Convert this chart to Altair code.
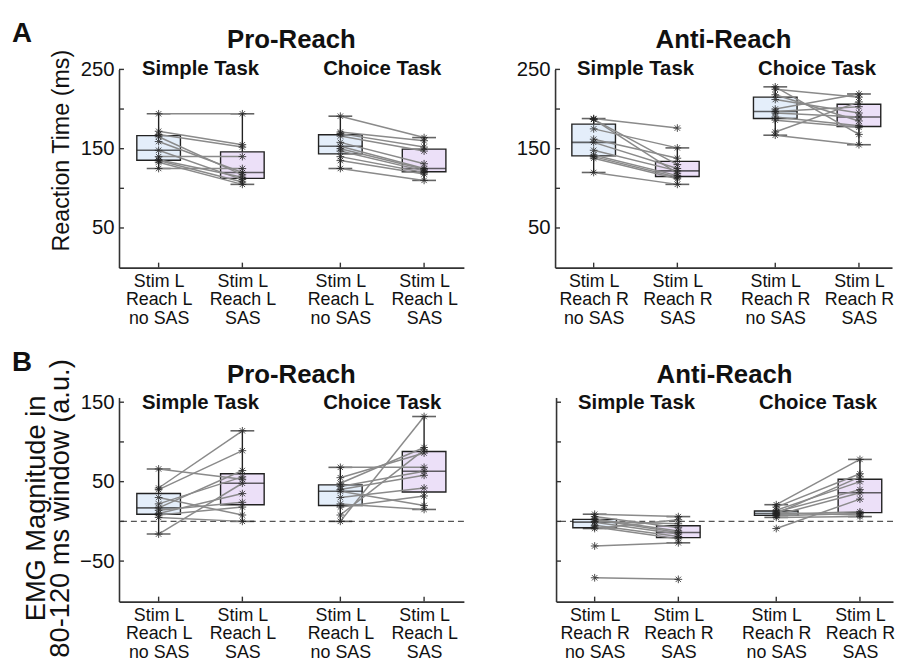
import altair as alt
import pandas as pd
import numpy as np

FONT = "Liberation Sans"

# x positions of the four conditions (Simple noSAS, Simple SAS, Choice noSAS, Choice SAS)
positions = [1, 2, 3.17, 4.17]
cond_names = ["noSAS", "SAS", "noSAS", "SAS"]
task_names = ["Simple Task", "Simple Task", "Choice Task", "Choice Task"]

labels_pro = [["Stim L", "Reach L", "no SAS"], ["Stim L", "Reach L", "SAS"],
              ["Stim L", "Reach L", "no SAS"], ["Stim L", "Reach L", "SAS"]]
labels_anti = [["Stim L", "Reach R", "no SAS"], ["Stim L", "Reach R", "SAS"],
               ["Stim L", "Reach R", "no SAS"], ["Stim L", "Reach R", "SAS"]]

# ---- Panel A: reaction time (ms), per subject ----
rt_pro_simple_nosas = [194, 172, 168, 165, 159, 148, 140, 136, 135, 133, 125]
rt_pro_simple_sas = [194, 155, 152, 117, 120, 111, 140, 114, 108, 105, 125]
rt_pro_choice_nosas = [191, 171, 169, 166, 158, 153, 150, 147, 140, 135, 125]
rt_pro_choice_sas = [164, 160, 152, 147, 131, 125, 124, 122, 120, 118, 110]

rt_anti_simple_nosas = [188, 187, 187, 175, 162, 158, 148, 142, 140, 138, 120]
rt_anti_simple_sas = [176, 119, 130, 151, 138, 125, 122, 116, 114, 112, 105]
rt_anti_choice_nosas = [228, 225, 218, 212, 200, 197, 195, 190, 186, 171, 167]
rt_anti_choice_sas = [168, 215, 185, 195, 219, 203, 190, 179, 177, 209, 155]

# ---- Panel B: EMG magnitude (a.u.), per subject ----
emg_pro_simple_nosas = [66, 42, 40, 30, 22, 17, 14, 10, 8, 5, -16]
emg_pro_simple_sas = [53, 114, 89, 8, 56, 64, 24, 35, 18, 0, 48]
emg_pro_choice_nosas = [68, 55, 48, 44, 40, 38, 30, 22, 18, 8, 0]
emg_pro_choice_sas = [68, 86, 93, 63, 58, 20, 42, 15, 32, 90, 132]

emg_anti_simple_nosas = [-71, -31, 9, 6, 3, 2, 0, -1, -5, -7, -9]
emg_anti_simple_sas = [-73, -27, 6, -8, -12, -14, -3, -16, -19, -22, 2]
emg_anti_choice_nosas = [21, 18, 14, 12, 11, 10, 9, 8, 7, 5, -9]
emg_anti_choice_sas = [78, 60, 50, 40, 8, 56, 12, 36, 10, 6, 28]

BLUE = "#e4eefa"
PURPLE = "#ece0f8"


def long_df(groups):
    rows = []
    for g, vals in enumerate(groups):
        for s, v in enumerate(vals):
            rows.append({"pos": positions[g], "cond": cond_names[g], "task": task_names[g],
                         "subj": s, "pair": f"{task_names[g]}-{s}", "val": v})
    return pd.DataFrame(rows)


def box_df(groups):
    rows = []
    for g, vals in enumerate(groups):
        a = np.array(vals, dtype=float)
        q1, med, q3 = np.percentile(a, [25, 50, 75])
        iqr = q3 - q1
        lo = a[a >= q1 - 1.5 * iqr].min()
        hi = a[a <= q3 + 1.5 * iqr].max()
        rows.append({"pos": positions[g], "cond": cond_names[g], "q1": q1, "med": med,
                     "q3": q3, "lo": lo, "hi": hi})
    return pd.DataFrame(rows)


def label_expr(lbls):
    def arr(l):
        return "[" + ",".join(f"'{t}'" for t in l) + "]"
    return (f"datum.value < 1.5 ? {arr(lbls[0])} : datum.value < 2.5 ? {arr(lbls[1])} : "
            f"datum.value < 3.5 ? {arr(lbls[2])} : {arr(lbls[3])}")


def panel(groups, xdom, width, height, ydom, ylabel_vals, ytick_vals, title, ytitle,
          show_ylabels, zero_line, xlabels, letter=None, task_dy=0, ytitle_font=23.5,
          ytitle_line=25, ytitle_x=-57, ytitle_y=82, letter_y=-36, title_dy=-29):
    d = long_df(groups)
    b = box_df(groups)
    xs = alt.Scale(domain=xdom, nice=False, zero=False)
    ys = alt.Scale(domain=ydom, nice=False, zero=False)

    x_axis = alt.Axis(values=positions, labelExpr=label_expr(xlabels), ticks=False,
                      labelFontSize=18, labelLineHeight=18.5, labelPadding=5,
                      labelColor="#111", domainColor="#333", domainWidth=1.6,
                      grid=False, title="", labelFont=FONT, labelAngle=0)
    y_axis = alt.Axis(values=ylabel_vals, ticks=False, labels=show_ylabels,
                      labelFontSize=20.5, labelPadding=5, labelColor="#111",
                      domainColor="#333", domainWidth=1.6, grid=False, title="",
                      labelFont=FONT)

    def X(f):
        return alt.X(f, scale=xs, axis=x_axis)

    def Y(f):
        return alt.Y(f, scale=ys, axis=y_axis)

    layers = []
    if zero_line:
        layers.append(alt.Chart(pd.DataFrame({"z": [0]})).mark_rule(
            color="#555", strokeDash=[6, 4], strokeWidth=1.2
        ).encode(y=Y("z:Q")))

    # whiskers
    layers.append(alt.Chart(b).mark_rule(color="#222", strokeWidth=1.4).encode(
        x=X("pos:Q"), y=Y("lo:Q"), y2="hi:Q"))
    # boxes
    layers.append(alt.Chart(b).mark_bar(size=44, stroke="#222", strokeWidth=1.4).encode(
        x=X("pos:Q"), y=Y("q1:Q"), y2="q3:Q",
        fill=alt.Fill("cond:N", scale=alt.Scale(domain=["noSAS", "SAS"], range=[BLUE, PURPLE]),
                      legend=None)))
    # medians
    layers.append(alt.Chart(b).mark_tick(orient="horizontal", size=44, thickness=1.6,
                                         color="#222").encode(x=X("pos:Q"), y=Y("med:Q")))
    # whisker caps
    for f in ["lo", "hi"]:
        layers.append(alt.Chart(b).mark_tick(orient="horizontal", size=24, thickness=1.6,
                                             color="#222").encode(x=X("pos:Q"), y=Y(f"{f}:Q")))
    # subject lines
    layers.append(alt.Chart(d).mark_line(color="#8a8a8a", strokeWidth=1.5).encode(
        x=X("pos:Q"), y=Y("val:Q"), detail="pair:N", order="pos:Q"))
    # asterisks
    layers.append(alt.Chart(d).mark_point(
        shape="M-1,0H1M0,-1V1M-0.7,-0.7L0.7,0.7M-0.7,0.7L0.7,-0.7",
        size=60, color="#222", strokeWidth=1, opacity=0.8, filled=False).encode(
        x=X("pos:Q"), y=Y("val:Q")))
    # inward ticks
    layers.append(alt.Chart(pd.DataFrame({"t": positions})).mark_rule(
        color="#333", strokeWidth=1.4).encode(
        x=X("t:Q"), y=alt.value(height), y2=alt.value(height - 5)))
    layers.append(alt.Chart(pd.DataFrame({"t": ytick_vals})).mark_rule(
        color="#333", strokeWidth=1.4).encode(
        y=Y("t:Q"), x=alt.value(0), x2=alt.value(5)))
    # task labels
    task_df = pd.DataFrame({"x": [np.mean(positions[:2]), np.mean(positions[2:])],
                            "lab": ["Simple Task", "Choice Task"]})
    layers.append(alt.Chart(task_df).mark_text(fontSize=20.5, fontWeight="bold", font=FONT,
                                               baseline="middle", color="#111").encode(
        x=X("x:Q"), y=alt.value(task_dy), text="lab:N"))
    # panel title
    layers.append(alt.Chart(pd.DataFrame({"t": [title]})).mark_text(
        fontSize=26, fontWeight="bold", font=FONT, baseline="middle", align="center",
        color="#111").encode(x=alt.value(width / 2), y=alt.value(title_dy), text="t:N"))
    # y-axis title (rotated text)
    if ytitle:
        layers.append(alt.Chart(pd.DataFrame({"t": [ytitle]})).mark_text(
            fontSize=ytitle_font, font=FONT, angle=270, align="center", baseline="middle",
            lineHeight=ytitle_line, color="#111").encode(
            x=alt.value(ytitle_x), y=alt.value(ytitle_y), text="t"))
    if letter:
        layers.append(alt.Chart(pd.DataFrame({"l": [letter]})).mark_text(
            fontSize=28, fontWeight="bold", font=FONT, align="left", baseline="middle",
            color="#111").encode(x=alt.value(-108), y=alt.value(letter_y), text="l:N"))

    return alt.layer(*layers).properties(width=width, height=height)


A_groups_pro = [rt_pro_simple_nosas, rt_pro_simple_sas, rt_pro_choice_nosas, rt_pro_choice_sas]
A_groups_anti = [rt_anti_simple_nosas, rt_anti_simple_sas, rt_anti_choice_nosas, rt_anti_choice_sas]
B_groups_pro = [emg_pro_simple_nosas, emg_pro_simple_sas, emg_pro_choice_nosas, emg_pro_choice_sas]
B_groups_anti = [emg_anti_simple_nosas, emg_anti_simple_sas, emg_anti_choice_nosas, emg_anti_choice_sas]

xdom_left = [0.586, 4.586]
xdom_right = [0.598, 4.506]

a_left = panel(A_groups_pro, xdom_left, 348, 200, [0, 250], [50, 150, 250],
               [50, 100, 150, 200, 250], "Pro-Reach", "Reaction Time (ms)", True, False,
               labels_pro, letter="A", task_dy=0, ytitle_font=23.5, ytitle_x=-57,
               ytitle_y=82, letter_y=-36, title_dy=-30)
a_right = panel(A_groups_anti, xdom_right, 340, 200, [0, 250], [50, 150, 250],
                [50, 100, 150, 200, 250], "Anti-Reach", None, True, False, labels_anti,
                task_dy=0, title_dy=-30)
b_left = panel(B_groups_pro, xdom_left, 348, 206, [-101, 156], [-50, 50, 150],
               [-50, 0, 50, 100, 150], "Pro-Reach",
               ["EMG Magnitude in", "80-120 ms window (a.u.)"], True, True, labels_pro,
               letter="B", task_dy=6, ytitle_font=27.5, ytitle_line=25, ytitle_x=-83,
               ytitle_y=112, letter_y=-35, title_dy=-23)
b_right = panel(B_groups_anti, xdom_right, 340, 206, [-101, 156], [-50, 50, 150],
                [-50, 0, 50, 100, 150], "Anti-Reach", None, False, True, labels_anti,
                task_dy=6, title_dy=-23)

chart = alt.vconcat(
    alt.hconcat(a_left, a_right, spacing=52),
    alt.hconcat(b_left, b_right, spacing=91),
    spacing=22,
).properties(padding={"left": 4, "top": 9, "right": 0, "bottom": 0}).configure(
    font=FONT, background="white"
).configure_view(stroke=None)

chart.save("out.html", embed_options={"renderer": "svg", "actions": False})
